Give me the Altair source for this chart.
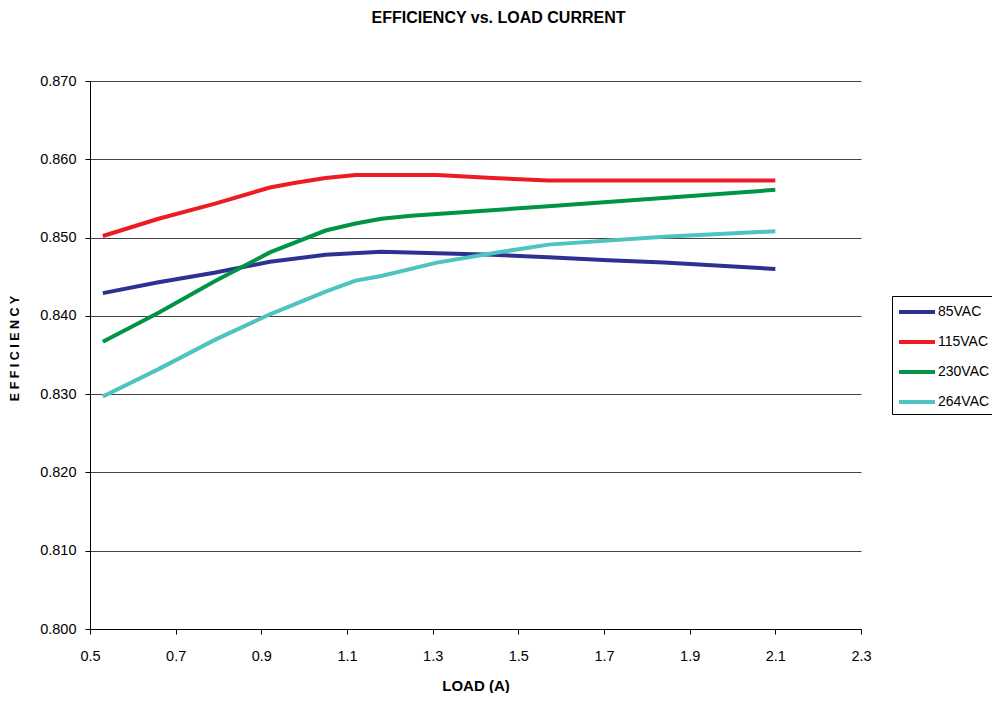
import altair as alt
import pandas as pd

series_names = ["85VAC", "115VAC", "230VAC", "264VAC"]
series_colors = ["#2E3192", "#ED1C24", "#009444", "#4EC3C1"]

load_85 = [0.53, 0.66, 0.79, 0.92, 1.05, 1.18, 1.31, 1.44, 1.57, 1.71, 1.84, 2.10]
eff_85 = [0.8429, 0.8443, 0.8455, 0.8469, 0.8478, 0.8482, 0.8480, 0.8478, 0.8475, 0.8471, 0.8468, 0.8460]

load_115 = [0.53, 0.66, 0.79, 0.92, 0.98, 1.05, 1.12, 1.31, 1.44, 1.57, 2.10]
eff_115 = [0.8502, 0.8524, 0.8543, 0.8564, 0.8570, 0.8576, 0.8580, 0.8580, 0.8576, 0.8573, 0.8573]

load_230 = [0.53, 0.66, 0.79, 0.92, 1.05, 1.12, 1.18, 1.25, 1.57, 2.10]
eff_230 = [0.8367, 0.8404, 0.8444, 0.8481, 0.8509, 0.8518, 0.8524, 0.8528, 0.8540, 0.8561]

load_264 = [0.53, 0.66, 0.79, 0.92, 1.05, 1.12, 1.18, 1.31, 1.44, 1.57, 1.84, 2.10]
eff_264 = [0.8297, 0.8332, 0.8369, 0.8402, 0.8431, 0.8445, 0.8451, 0.8468, 0.8480, 0.8491, 0.8501, 0.8508]

x_ticks = [0.5, 0.7, 0.9, 1.1, 1.3, 1.5, 1.7, 1.9, 2.1, 2.3]
y_ticks = [0.800, 0.810, 0.820, 0.830, 0.840, 0.850, 0.860, 0.870]

rows = []
for name, xs, ys in [("85VAC", load_85, eff_85), ("115VAC", load_115, eff_115),
                     ("230VAC", load_230, eff_230), ("264VAC", load_264, eff_264)]:
    for i, (xv, yv) in enumerate(zip(xs, ys)):
        rows.append({"series": name, "load": xv, "eff": yv, "order": i})
df = pd.DataFrame(rows)

FONT = "Liberation Sans"

chart = alt.Chart(df).mark_line(strokeWidth=4).encode(
    x=alt.X("load:Q",
            scale=alt.Scale(domain=[0.5, 2.3], nice=False, zero=False),
            axis=alt.Axis(values=x_ticks, format=".1f", title="LOAD (A)", grid=False,
                          domainColor="black", tickColor="black", tickSize=5,
                          labelFont=FONT, labelFontSize=14.5, labelColor="black",
                          labelPadding=15, labelFlush=False,
                          titleFont=FONT, titleFontSize=15, titleFontWeight="bold",
                          titleColor="black", titleY=61, titleBaseline="alphabetic")),
    y=alt.Y("eff:Q",
            scale=alt.Scale(domain=[0.800, 0.870], nice=False, zero=False),
            axis=alt.Axis(values=y_ticks, format=".3f", title="E F F I C I E N C Y", grid=True,
                          gridColor="#444444", gridWidth=1,
                          domainColor="black", tickColor="black", tickSize=5,
                          labelFont=FONT, labelFontSize=14.5, labelColor="black",
                          labelPadding=9,
                          titleFont=FONT, titleFontSize=12.5, titleFontWeight="bold",
                          titleColor="black", titleAngle=-90, titleX=-69, titleY=267,
                          titleAlign="center", titleBaseline="bottom")),
    color=alt.Color("series:N",
                    scale=alt.Scale(domain=series_names, range=series_colors),
                    legend=alt.Legend(title=None, orient="none", legendX=802, legendY=215,
                                      strokeColor="black", fillColor="white", padding=4,
                                      symbolType="M-0.9,0L2.7,0", symbolStrokeWidth=4,
                                      symbolSize=400,
                                      labelFont=FONT, labelFontSize=14, labelColor="black",
                                      labelOffset=18, rowPadding=10)),
    order="order:Q",
).properties(
    width=771, height=548,
    title=alt.TitleParams("EFFICIENCY vs. LOAD CURRENT", font=FONT, fontSize=16, fontWeight="bold",
                          color="black", anchor="middle", frame="group", dx=23, offset=47),
    autosize=alt.AutoSizeParams(type="none"),
    padding={"left": 82, "top": 73, "right": 131, "bottom": 64},
).configure_view(stroke=None)

chart.save("out.html", embed_options={"renderer": "svg", "actions": False})
